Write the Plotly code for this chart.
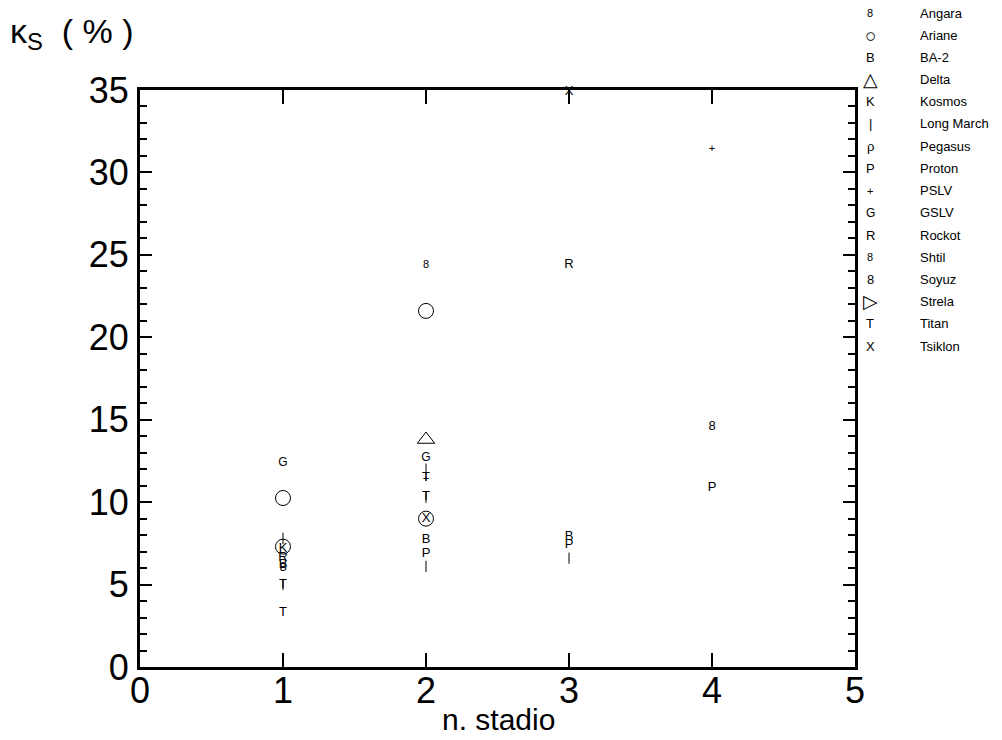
import plotly.graph_objects as go

# ---- data ----
series_names = ["Angara", "Ariane", "BA-2", "Delta", "Kosmos", "Long March", "Pegasus",
                "Proton", "PSLV", "GSLV", "Rockot", "Shtil", "Soyuz", "Strela", "Titan", "Tsiklon"]

angara_x = [2];              angara_y = [24.4]
ariane_x = [1, 1, 2, 2];     ariane_y = [10.25, 7.3, 21.6, 9.0]
ba2_x = [1, 2, 3];           ba2_y = [6.2, 7.7, 7.9]
delta_x = [2];               delta_y = [13.8]
kosmos_x = [1];              kosmos_y = [7.2]
longmarch_x = [1, 1, 2, 2, 2, 3]; longmarch_y = [7.8, 5.0, 12.0, 10.3, 6.1, 6.6]
pegasus_x = [];              pegasus_y = []
proton_x = [2, 3, 4];        proton_y = [6.9, 7.4, 10.85]
pslv_x = [2, 4];             pslv_y = [11.4, 31.4]
gslv_x = [1, 2];             gslv_y = [12.4, 12.7]
rockot_x = [1, 3];           rockot_y = [6.6, 24.4]
shtil_x = [];                shtil_y = []
soyuz_x = [1, 4];            soyuz_y = [6.0, 14.6]
strela_x = [];               strela_y = []
titan_x = [1, 1, 2, 2];      titan_y = [5.0, 3.3, 11.5, 10.3]
tsiklon_x = [2, 3];          tsiklon_y = [9.0, 34.9]

xs = [angara_x, ariane_x, ba2_x, delta_x, kosmos_x, longmarch_x, pegasus_x, proton_x,
      pslv_x, gslv_x, rockot_x, shtil_x, soyuz_x, strela_x, titan_x, tsiklon_x]
ys = [angara_y, ariane_y, ba2_y, delta_y, kosmos_y, longmarch_y, pegasus_y, proton_y,
      pslv_y, gslv_y, rockot_y, shtil_y, soyuz_y, strela_y, titan_y, tsiklon_y]

# symbol per series: ("text", char, size) or ("marker", plotly symbol, legend char, size)
styles = [
    ("text", "8", 11), ("marker", "circle-open", "○", 15), ("text", "B", 13),
    ("marker", "triangle-up-open", "△", 15),
    ("text", "K", 13), ("marker", "line-ns-open", "|", 8), ("text", "ρ", 13), ("text", "P", 13),
    ("text", "+", 11), ("text", "G", 12), ("text", "R", 13), ("text", "8", 11),
    ("text", "8", 13), ("marker", "triangle-right-open", "▷", 15), ("text", "T", 13), ("text", "X", 13),
]

FONT = "Liberation Sans, Arial, sans-serif"

fig = go.Figure()
for name, x, y, st in zip(series_names, xs, ys, styles):
    if st[0] == "text":
        fig.add_trace(go.Scatter(x=x, y=y, mode="text", text=[st[1]] * len(x), name=name,
                                 textposition="middle center", cliponaxis=False,
                                 textfont=dict(family=FONT, size=st[2], color="black"),
                                 showlegend=False))
    else:
        fig.add_trace(go.Scatter(x=x, y=y, mode="markers", name=name, cliponaxis=False,
                                 marker=dict(symbol=st[1], size=st[3], color="black",
                                             line=dict(width=1, color="black")),
                                 showlegend=False))

# manual legend
L, T, W, H = 140, 90, 715, 577
for i, (name, st) in enumerate(zip(series_names, styles)):
    py = 13 + 22.2 * i
    yp = (T + H - py) / H
    sym = st[1] if st[0] == "text" else st[2]
    if st[0] == "text":
        size = st[2]
    else:
        size = 13 if st[2] == "|" else 19
    fig.add_annotation(x=(870 - L) / W, y=yp, xref="paper", yref="paper", text=sym,
                       showarrow=False, xanchor="center", yanchor="middle",
                       font=dict(family=FONT, size=size, color="black"))
    fig.add_annotation(x=(918 - L) / W, y=yp, xref="paper", yref="paper", text=name,
                       showarrow=False, xanchor="left", yanchor="middle",
                       font=dict(family=FONT, size=13, color="black"))

# y title
fig.add_annotation(x=(8 - L) / W, y=(T + H - 34) / H, xref="paper", yref="paper",
                   text="κ<sub>S</sub>  ( % )", showarrow=False, xanchor="left", yanchor="middle",
                   font=dict(family=FONT, size=34, color="black"))
# x title
fig.add_annotation(x=(498 - L) / W, y=(T + H - 719) / H, xref="paper", yref="paper",
                   text="n. stadio", showarrow=False, xanchor="center", yanchor="middle",
                   font=dict(family=FONT, size=30, color="black"))

axis_common = dict(showline=True, linewidth=3, linecolor="black", mirror="allticks",
                   ticks="inside", tickcolor="black", tickwidth=1.5, showgrid=False,
                   zeroline=False, automargin=False,
                   tickfont=dict(family=FONT, size=36, color="black"))

fig.update_xaxes(range=[0, 5], dtick=1, tick0=0, ticklen=14, ticklabelstandoff=-10,
                 **axis_common)
fig.update_yaxes(range=[0, 35], dtick=5, tick0=0, ticklen=12, ticklabelstandoff=1,
                 minor=dict(dtick=1, ticks="inside", ticklen=7, tickcolor="black", tickwidth=1.5),
                 **axis_common)

fig.update_layout(width=1002, height=740, plot_bgcolor="white", paper_bgcolor="white",
                  margin=dict(l=L, r=1002 - L - W, t=T, b=740 - T - H),
                  font=dict(family=FONT, color="black"))

fig.write_html("out.html")
